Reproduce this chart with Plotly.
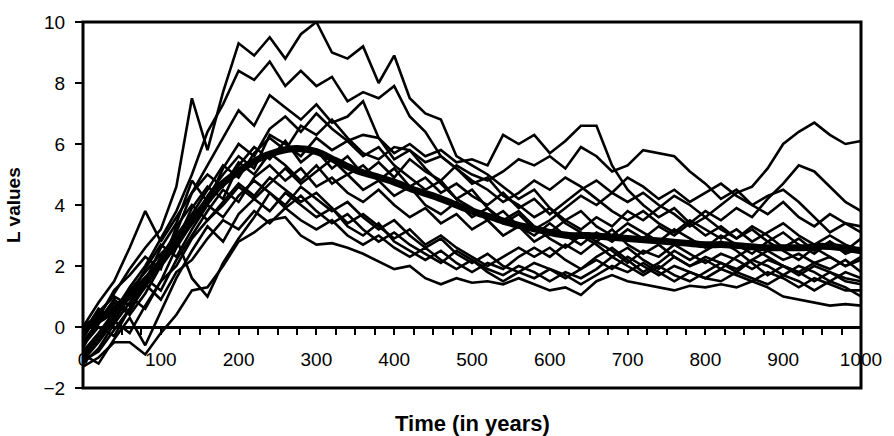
import plotly.graph_objects as go

# time grid (years) for the individual runs
years = list(range(0, 1001, 20))

run01 = [-0.3,0.4,1.1,1.9,2.6,3.2,4.6,7.5,5.8,7.7,9.3,8.9,9.5,8.8,9.6,10.0,9.0,8.8,9.2,8.0,8.9,7.5,7.0,6.8,5.6,5.3,5.0,4.6,4.2,4.5,3.9,3.5,3.8,3.3,3.0,3.4,3.1,2.8,3.2,2.9,2.6,3.0,2.7,2.4,2.8,2.5,2.2,2.6,2.3,2.0,2.3]
run02 = [-0.8,-0.2,0.5,1.3,2.0,2.9,3.8,5.0,6.4,7.3,8.4,8.1,8.7,7.9,8.4,7.9,8.2,7.4,7.7,7.5,7.9,6.9,6.4,5.6,5.2,4.7,4.9,4.3,4.0,3.6,3.9,3.4,3.1,2.8,3.2,2.7,2.4,2.7,2.3,2.0,2.3,2.1,1.8,2.2,2.0,1.7,2.0,1.8,1.5,1.8,1.6]
run03 = [-0.5,0.2,0.9,0.5,1.4,2.3,3.1,4.4,5.3,6.2,7.1,6.6,7.6,7.2,6.8,7.3,6.7,6.9,7.4,6.2,5.5,5.8,5.2,4.7,4.2,4.5,3.9,3.5,3.8,3.3,2.9,2.6,3.0,2.7,2.3,2.6,2.2,1.9,2.3,2.0,2.2,1.9,2.3,2.6,2.3,2.0,1.7,2.0,1.8,1.5,1.4]
run04 = [-1.0,-0.4,0.3,1.0,0.6,1.5,2.6,3.4,4.3,5.0,5.6,5.2,6.3,6.0,5.6,6.2,5.8,6.1,6.3,6.2,5.7,6.0,5.6,5.8,5.4,5.5,5.3,6.3,6.0,6.3,5.7,6.1,6.6,6.6,5.3,4.5,4.0,3.6,3.9,3.4,3.0,3.3,2.9,3.2,2.8,3.1,2.7,2.4,2.8,2.5,2.9]
run05 = [-0.6,0.0,-0.3,0.6,1.3,2.1,2.8,3.9,4.6,4.2,5.3,5.9,5.5,6.1,5.4,5.8,5.2,5.6,5.0,5.4,4.9,5.5,5.1,4.8,5.3,5.0,4.8,5.1,5.5,5.3,5.6,5.2,5.9,5.6,5.1,5.3,5.8,5.7,5.6,5.1,4.7,4.2,4.5,4.0,3.7,4.1,3.6,3.3,3.7,3.4,3.3]
run06 = [-1.2,-0.7,0.1,0.8,1.6,1.2,2.2,3.0,3.8,4.5,4.1,4.9,5.3,4.8,5.2,4.6,4.9,4.4,4.1,4.5,4.0,3.6,3.9,3.4,3.7,3.2,3.5,3.0,3.3,2.8,3.1,3.5,3.2,3.6,3.3,3.8,3.5,3.9,4.3,4.0,3.6,4.0,4.4,4.6,5.2,6.0,6.4,6.7,6.3,6.0,6.1]
run07 = [-1.3,-1.0,-0.5,-0.5,-0.9,-0.2,0.4,1.2,1.3,2.0,2.8,3.1,3.5,3.6,3.0,2.7,2.75,2.6,2.4,2.15,1.9,2.0,1.6,1.4,1.6,1.45,1.5,1.4,1.6,1.4,1.2,1.3,1.05,1.5,1.7,1.5,1.4,1.3,1.2,1.35,1.3,1.4,1.3,1.5,1.3,1.0,0.9,0.8,0.7,0.75,0.7]
run08 = [-0.9,-0.3,0.4,1.2,1.8,2.4,2.9,1.6,1.0,2.1,2.9,3.6,4.4,4.0,4.6,4.2,3.8,4.1,3.6,3.2,3.5,3.0,2.6,2.9,2.4,2.1,2.4,2.0,1.8,2.1,1.9,1.6,1.9,2.2,1.9,2.3,2.0,1.7,2.0,1.8,1.6,1.9,1.7,1.5,1.8,1.6,1.3,1.6,1.4,1.2,1.2]
run09 = [0.0,0.8,1.5,2.6,3.8,2.8,3.6,4.4,5.0,4.6,5.4,5.0,5.7,5.3,4.8,5.3,4.7,5.0,4.5,4.8,4.3,4.6,4.0,3.7,4.1,3.6,3.9,3.4,3.7,3.2,3.5,3.9,4.3,4.0,4.4,4.1,4.4,4.0,3.7,3.3,3.6,3.2,2.9,3.3,3.0,2.6,2.9,2.5,2.8,2.4,2.6]
run10 = [-0.7,0.3,1.2,1.7,2.3,1.9,3.3,4.0,3.5,4.1,4.7,4.3,4.9,4.5,4.1,4.4,3.9,3.4,3.7,3.3,2.9,3.2,2.7,3.0,2.6,2.3,2.0,2.3,2.6,2.3,2.6,2.2,1.9,2.3,2.6,2.2,1.8,2.1,2.5,2.2,2.5,2.8,2.5,2.1,1.7,2.0,1.8,2.1,1.9,2.2,1.8]
run11 = [-1.1,-0.5,0.2,-0.2,0.7,1.5,2.0,2.9,3.5,4.0,4.6,4.2,4.7,5.2,4.7,5.1,5.5,5.0,5.3,4.8,5.2,4.6,4.9,4.4,4.7,4.3,4.0,4.4,3.9,4.2,3.7,4.1,4.5,4.8,4.4,4.9,4.6,4.2,4.5,4.1,4.4,4.7,4.3,4.0,4.3,4.5,4.1,3.6,3.1,3.4,3.1]
run12 = [-0.4,0.5,1.0,0.7,1.5,2.6,3.4,4.8,4.1,5.2,6.0,5.6,6.5,6.9,6.4,7.0,6.5,6.1,5.6,5.9,5.3,4.9,4.5,4.8,4.2,3.9,3.5,3.8,3.3,3.0,3.4,3.0,2.7,3.1,2.8,3.2,2.9,3.3,3.0,3.4,3.8,3.5,3.9,3.6,4.2,4.7,5.3,5.1,4.6,4.1,3.8]
run13 = [-0.2,0.6,0.2,1.0,1.9,2.7,2.3,3.2,4.0,3.6,4.3,4.8,4.4,3.9,4.3,3.8,3.4,3.7,3.2,2.8,3.1,2.7,2.4,2.1,2.5,2.2,1.9,1.7,2.0,1.8,1.5,1.8,1.6,1.9,2.3,2.0,1.7,2.0,1.7,1.5,1.8,2.1,1.9,2.2,2.5,2.2,2.4,2.1,2.3,2.0,2.2]
run14 = [-0.9,-1.2,-0.4,0.3,-0.6,0.5,1.6,2.5,3.3,2.8,3.7,4.2,3.8,4.4,4.0,3.6,3.9,3.3,3.0,3.4,2.8,2.5,2.2,2.5,2.1,1.8,2.1,1.9,2.3,2.6,2.3,2.7,2.4,2.8,2.5,2.1,2.5,2.3,2.7,2.4,2.1,2.4,2.2,1.9,2.2,2.0,1.8,1.5,1.8,1.6,1.5]
run15 = [-0.6,0.1,0.8,0.4,1.1,2.0,3.0,3.7,4.5,5.3,4.9,5.7,6.2,5.8,6.6,6.3,6.8,6.2,5.7,5.5,5.9,5.8,5.4,5.6,5.2,4.8,4.5,4.1,4.4,4.8,4.5,4.9,4.6,4.2,3.8,3.5,3.8,3.4,3.1,3.5,3.2,2.9,3.2,2.8,3.1,3.4,3.0,2.7,3.0,2.7,2.5]
run16 = [-1.1,-0.8,-0.1,0.6,1.4,0.9,1.8,2.2,2.9,3.5,3.2,3.8,3.4,3.9,3.5,3.2,3.5,3.0,2.7,3.0,2.6,2.3,2.6,2.2,1.9,2.2,1.8,1.5,1.8,1.6,1.9,1.7,1.4,1.7,2.0,1.8,2.1,1.8,1.5,1.8,1.6,1.5,1.8,1.6,1.4,1.7,1.5,1.2,1.5,1.3,1.0]

runs = [run01, run02, run03, run04, run05, run06, run07, run08,
        run09, run10, run11, run12, run13, run14, run15, run16]

# thick average line
mean_years = list(range(0, 1001, 25))
mean_values = [0.0,0.3,0.8,1.4,2.1,3.0,3.8,4.6,5.1,5.5,5.75,5.85,5.75,5.45,5.15,4.95,4.75,4.5,4.3,4.05,3.8,3.6,3.4,3.25,3.1,3.0,3.0,2.95,2.9,2.85,2.8,2.75,2.7,2.7,2.65,2.6,2.6,2.6,2.65,2.6,2.5]

# axis ticks
x_tick_vals = list(range(0, 1001, 25))
x_tick_text = [str(v) if v % 100 == 0 else "" for v in x_tick_vals]
y_tick_vals = [-2, 0, 2, 4, 6, 8, 10]

fig = go.Figure()
for r in runs:
    fig.add_trace(go.Scatter(x=years, y=r, mode="lines",
                             line=dict(color="black", width=2.6),
                             showlegend=False, hoverinfo="skip"))
fig.add_trace(go.Scatter(x=mean_years, y=mean_values, mode="lines",
                         line=dict(color="black", width=7, shape="spline"),
                         showlegend=False, hoverinfo="skip"))

font_family = "Liberation Sans, Arial, sans-serif"

fig.update_layout(
    width=894, height=436,
    margin=dict(l=83, r=26, t=17, b=48),
    paper_bgcolor="white", plot_bgcolor="white",
    font=dict(family=font_family, color="black", size=19),
    xaxis=dict(range=[0, 1000], anchor="free", position=1/6,
               showgrid=False, zeroline=False,
               showline=True, linecolor="black", linewidth=2.5,
               ticks="outside", ticklen=6, tickwidth=2, tickcolor="black",
               tickvals=x_tick_vals, ticktext=x_tick_text,
               ticklabelstandoff=8,
               tickfont=dict(size=19, family=font_family)),
    yaxis=dict(range=[-2, 10], showgrid=False, zeroline=False,
               showline=False,
               ticks="outside", ticklen=7, tickwidth=2, tickcolor="black",
               tickvals=y_tick_vals,
               ticklabelstandoff=6,
               tickfont=dict(size=19, family=font_family)),
    shapes=[dict(type="rect", xref="paper", yref="paper", x0=0, x1=1, y0=0, y1=1,
                 line=dict(color="black", width=3), layer="above")],
    annotations=[
        dict(text="<b>Time (in years)</b>", xref="paper", yref="paper",
             x=0.5, y=-0.058, yanchor="top", xanchor="center", showarrow=False,
             font=dict(size=22, family=font_family)),
        dict(text="<b>L values</b>", xref="paper", yref="paper",
             x=-0.09, y=0.5, xanchor="center", yanchor="middle", textangle=-90,
             showarrow=False, font=dict(size=19, family=font_family)),
    ],
)

fig.write_html("out.html")
